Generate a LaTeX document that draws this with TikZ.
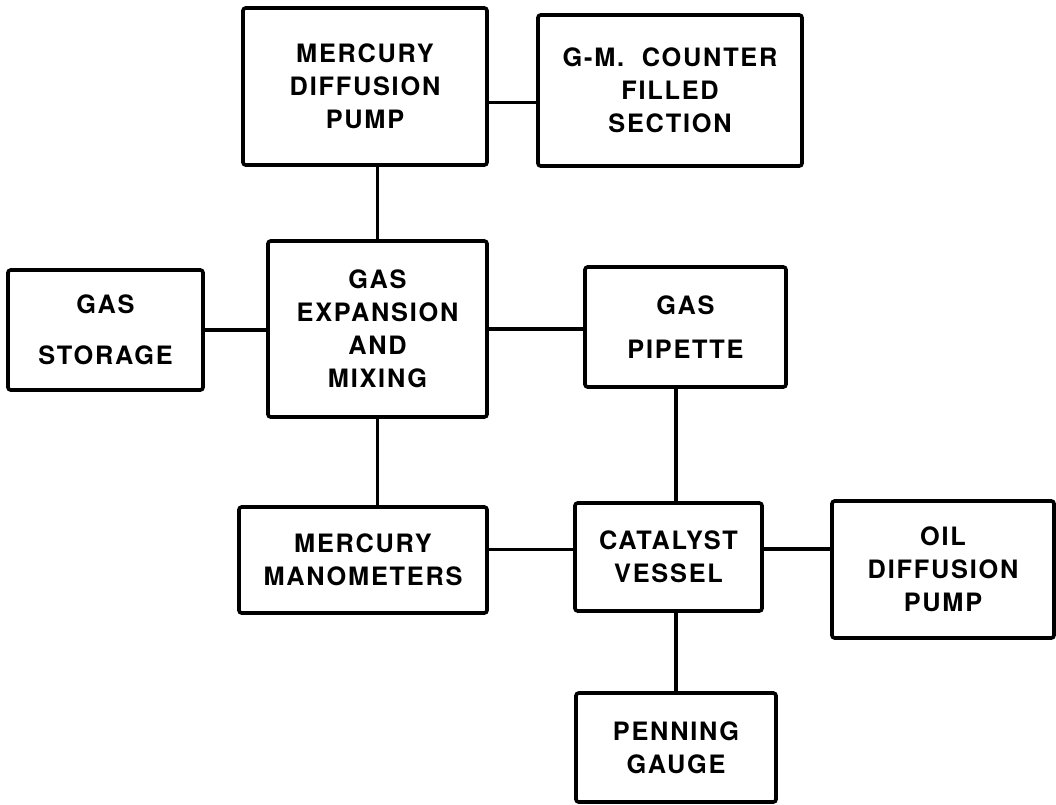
\documentclass[tikz,border=0pt]{standalone}
\usepackage{fontspec}
\setmainfont{TeX Gyre Heros}[LetterSpace=7]
\usepackage{tikz}
\usetikzlibrary{calc}

\begin{document}
\begin{tikzpicture}[
  x=0.025cm, y=-0.025cm,
  unit/.style={rectangle, draw=black, line width=2.6pt, rounded corners=2pt,
               align=center, inner sep=0pt,
               font=\fontsize{18}{23.5}\selectfont\bfseries},
  pipe/.style={line width=2.2pt}
]
  \useasboundingbox (0,0) rectangle (1056,804);
  \node[unit, minimum width=6.1cm, minimum height=3.925cm] (mdp) at (365,86.5) {MERCURY\\DIFFUSION\\PUMP};
  \node[unit, minimum width=6.6cm, minimum height=3.775cm] (gm) at (670,90.5) {G-M.\ \ COUNTER\\FILLED\\SECTION};
  \node[unit, minimum width=4.875cm, minimum height=3cm] (gs) at (105.5,330) {GAS\\[0.45cm]STORAGE};
  \node[unit, minimum width=5.475cm, minimum height=4.4cm] (gem) at (377.5,329) {GAS\\EXPANSION\\AND\\MIXING};
  \node[unit, minimum width=5.025cm, minimum height=3cm] (pip) at (685.5,327) {GAS\\[0.28cm]PIPETTE};
  \node[unit, minimum width=6.2cm, minimum height=2.65cm] (man) at (363,560) {MERCURY\\MANOMETERS};
  \node[unit, minimum width=4.675cm, minimum height=2.7cm] (cat) at (668.5,557) {CATALYST\\VESSEL};
  \node[unit, minimum width=5.55cm, minimum height=3.425cm] (oil) at (943,569.5) {OIL\\DIFFUSION\\PUMP};
  \node[unit, minimum width=5cm, minimum height=2.725cm] (pen) at (676,747.5) {PENNING\\GAUGE};

  % connections
  \coordinate (c1) at ([yshift=-0.39cm]mdp.east);
  \coordinate (c2) at ([yshift=0.18cm]cat.west);
  \coordinate (c3) at ([yshift=0.2cm]cat.east);
  \draw[pipe] (c1) -- (c1 -| gm.west);
  \draw[pipe] (mdp.south -| gem.north) -- (gem.north);
  \draw[pipe] (gs.east) -- (gs.east -| gem.west);
  \draw[pipe] (gem.east) -- (gem.east -| pip.west);
  \draw[pipe] (gem.south) -- (gem.south |- man.north);
  \draw[pipe] (pip.south -| pen.north) -- (cat.north -| pen.north);
  \draw[pipe] (c2) -- (c2 -| man.east);
  \draw[pipe] (c3) -- (c3 -| oil.west);
  \draw[pipe] (cat.south -| pen.north) -- (pen.north);
\end{tikzpicture}
\end{document}
